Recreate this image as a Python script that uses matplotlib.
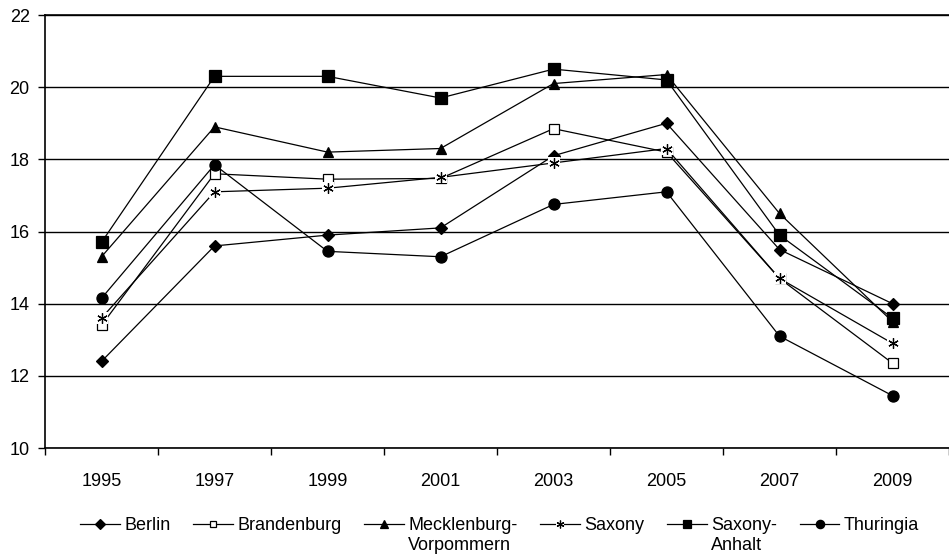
import matplotlib
matplotlib.use("Agg")
import matplotlib.pyplot as plt
from matplotlib.ticker import FixedLocator, NullFormatter

plt.rcParams['font.family'] = ['Liberation Sans', 'DejaVu Sans']

years = ['1995', '1997', '1999', '2001', '2003', '2005', '2007', '2009']

berlin = [12.4, 15.6, 15.9, 16.1, 18.1, 19.0, 15.5, 14.0]
brandenburg = [13.4, 17.6, 17.45, 17.47, 18.85, 18.2, 14.7, 12.35]
mecklenburg = [15.3, 18.9, 18.2, 18.3, 20.1, 20.35, 16.5, 13.5]
saxony = [13.6, 17.1, 17.2, 17.5, 17.9, 18.3, 14.7, 12.9]
saxony_anhalt = [15.7, 20.3, 20.3, 19.7, 20.5, 20.2, 15.9, 13.6]
thuringia = [14.15, 17.85, 15.45, 15.3, 16.75, 17.1, 13.1, 11.45]

# legend names are wrapped onto a second line for the two long ones
names = ['Berlin', 'Brandenburg', 'Mecklenburg-\nVorpommern', 'Saxony',
         'Saxony-\nAnhalt', 'Thuringia']
values = [berlin, brandenburg, mecklenburg, saxony, saxony_anhalt, thuringia]
styles = [
    dict(marker='D', markersize=6.5, markerfacecolor='black'),
    dict(marker='s', markersize=6.5, markerfacecolor='white'),
    dict(marker='^', markersize=7, markerfacecolor='black'),
    dict(marker='s', markersize=8.5, markerfacecolor='white', markeredgewidth=0),
    dict(marker='s', markersize=8.5, markerfacecolor='black'),
    dict(marker='o', markersize=8, markerfacecolor='black'),
]

fig = plt.figure(figsize=(9.49, 5.6), dpi=100)
ax = fig.add_axes([45 / 949, 112 / 560, 904 / 949, 433 / 560])

x = list(range(len(years)))
handles = []
for name, vals, style in zip(names, values, styles):
    style = dict(style)
    mew = style.pop('markeredgewidth', 0.9)
    line, = ax.plot(x, vals, color='black', linewidth=0.9, markeredgecolor='black',
                    markeredgewidth=mew, **style)
    if name == 'Saxony':
        # asterisk drawn over a blank square, so nearby lines break around it
        star, = ax.plot(x, vals, linestyle='none', marker=(6, 2, 0), markersize=7.5,
                        markeredgecolor='black', markeredgewidth=0.9)
        handles.append((line, star))
    else:
        handles.append(line)

ax.set_ylim(10, 22)
ax.set_yticks(range(10, 23, 2))
ax.yaxis.grid(True, color='black', linewidth=1.0)
ax.set_axisbelow(True)
ax.tick_params(axis='y', direction='out', length=5, width=1, labelsize=13, pad=6)

# category labels at centres, tick marks between categories
ax.set_xlim(-0.5, len(years) - 0.5)
ax.xaxis.set_major_locator(FixedLocator([i - 0.5 for i in range(len(years) + 1)]))
ax.xaxis.set_major_formatter(NullFormatter())
ax.xaxis.set_minor_locator(FixedLocator(x))
ax.set_xticklabels(years, minor=True)
ax.tick_params(axis='x', which='major', direction='out', length=5, width=1)
ax.tick_params(axis='x', which='minor', length=0, labelsize=13, pad=18)

for side in ('left', 'bottom', 'top'):
    ax.spines[side].set_linewidth(1.2)
ax.spines['right'].set_visible(False)

leg = fig.legend(handles, [n.split('\n')[0] for n in names],
                 loc='center left', bbox_to_anchor=(80 / 949, 1 - 526 / 560), ncol=6,
                 frameon=False, fontsize=13, handlelength=2.2, handletextpad=0.25,
                 columnspacing=1.25, markerscale=0.75, borderaxespad=0, borderpad=0)

# second line of the wrapped legend names, set under the first line
fig.canvas.draw()
inv = fig.transFigure.inverted()
for txt, name in zip(leg.get_texts(), names):
    if '\n' in name:
        bb = txt.get_window_extent()
        x0, y0 = inv.transform((bb.x0, bb.y0 - 3))
        fig.text(x0, y0, name.split('\n')[1], fontsize=13, ha='left', va='top')

fig.savefig('out.png', dpi=100)
